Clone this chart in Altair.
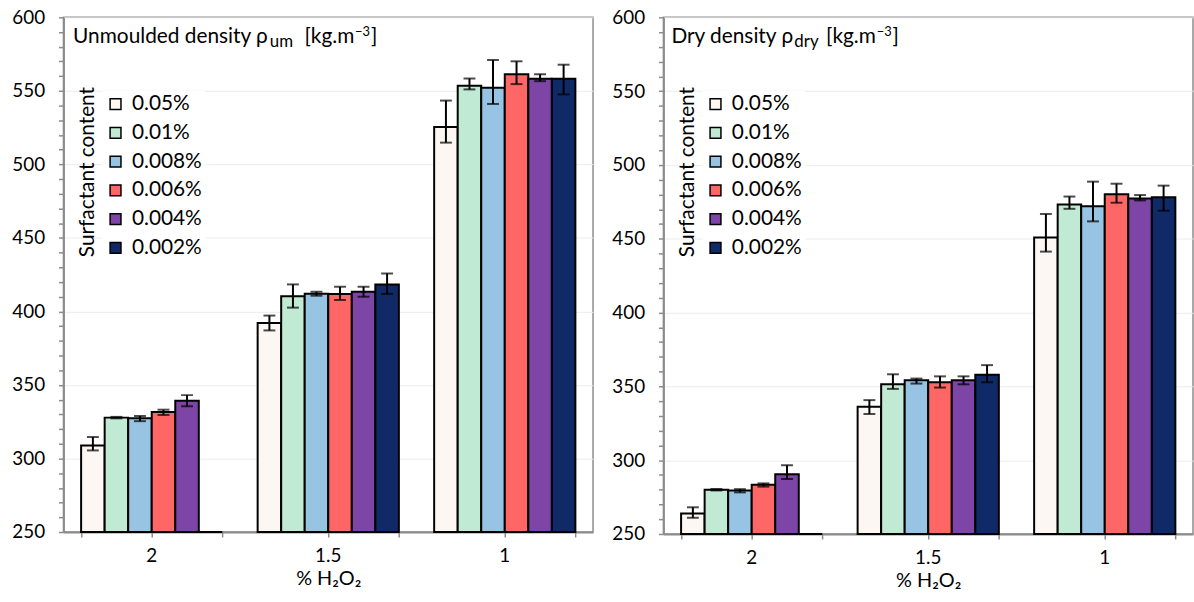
import altair as alt
import pandas as pd

H2O2 = ["2", "1.5", "1"]
SURF = ["0.05%", "0.01%", "0.008%", "0.006%", "0.004%", "0.002%"]
COLORS = ["#FCF7F3", "#C1EAD5", "#98C4E4", "#FF6666", "#7D45A6", "#0F2A66"]

# Unmoulded density: rows = % H2O2 (2, 1.5, 1), columns = surfactant content
UM_MEAN = [
    [308.9, 327.8, 327.4, 331.6, 339.3, 0],
    [392.1, 410.3, 412.1, 411.9, 413.4, 418.4],
    [525.4, 553.5, 552.1, 561.3, 558.2, 558.2],
]
UM_LO = [
    [305.5, 327.3, 325.4, 329.6, 335.5, None],
    [387.1, 402.6, 410.7, 407.8, 410.0, 411.9],
    [514.8, 551.0, 541.1, 554.6, 556.6, 547.6],
]
UM_HI = [
    [314.6, 328.3, 328.9, 333.2, 343.1, None],
    [397.2, 418.4, 413.4, 416.8, 416.8, 425.8],
    [543.4, 558.4, 571.0, 570.1, 561.3, 567.8],
]
# Dry density
DRY_MEAN = [
    [263.9, 280.0, 279.5, 283.4, 290.5, 0],
    [336.2, 351.4, 354.1, 352.8, 354.1, 357.9],
    [450.9, 473.2, 472.1, 480.2, 477.3, 478.2],
]
DRY_LO = [
    [261.0, 279.5, 278.2, 282.1, 287.2, None],
    [331.3, 348.3, 351.9, 349.2, 351.4, 352.8],
    [441.3, 470.3, 461.8, 474.4, 476.0, 469.0],
]
DRY_HI = [
    [268.1, 280.5, 280.4, 284.3, 296.6, None],
    [340.7, 358.2, 355.3, 356.8, 356.8, 364.4],
    [466.8, 478.6, 488.7, 487.3, 479.6, 486.0],
]

# title pieces: main, subscript, unit, superscript, closing bracket
UM_TITLE = ["Unmoulded density ρ", "um", "[kg.m", "−3", "]"]
DRY_TITLE = ["Dry density ρ", "dry", "[kg.m", "−3", "]"]
LEGEND_TITLE = "Surfactant content"
X_TITLE = "% H₂O₂"
Y_TICKS = list(range(250, 601, 10))

FONT = "Lato"
GRAY = "#8c8c8c"


def make_df(mean, lo, hi):
    rows = []
    for i, h in enumerate(H2O2):
        for j, s in enumerate(SURF):
            rows.append({"h2o2": h, "surf": s, "mean": mean[i][j],
                         "lo": lo[i][j], "hi": hi[i][j]})
    return pd.DataFrame(rows)


def text_layer(txt, x, y, size, align="left", angle=0, baseline="alphabetic"):
    return alt.Chart(pd.DataFrame({"t": [txt]})).mark_text(
        align=align, baseline=baseline, fontSize=size, font=FONT, color="black", angle=angle
    ).encode(x=alt.value(x), y=alt.value(y), text="t:N")


def panel(mean, lo, hi, parts, height, xs, main_align):
    df = make_df(mean, lo, hi)
    xscale = alt.Scale(paddingInner=0.2, paddingOuter=0.1)
    yscale = alt.Scale(domain=[250, 600], nice=False, zero=False, clamp=True)
    yaxis = alt.Axis(values=Y_TICKS, title=None, tickSize=5, labelPadding=14,
                     labelExpr="datum.value % 50 === 0 ? datum.label : ''",
                     gridOpacity={"condition": {"test": "datum.value % 50 === 0", "value": 1}, "value": 0})
    xo = alt.XOffset("surf:N", sort=SURF, scale=alt.Scale(paddingInner=0, paddingOuter=0))

    bars = alt.Chart(df).mark_bar(stroke="black", strokeWidth=2).encode(
        x=alt.X("h2o2:N", sort=H2O2, scale=xscale, title=X_TITLE,
                axis=alt.Axis(orient="bottom", labelAngle=0, tickSize=5, labelPadding=10,
                              titlePadding=3, grid=False)),
        xOffset=xo,
        y=alt.Y("mean:Q", scale=yscale, axis=yaxis),
        color=alt.Color("surf:N", sort=SURF, scale=alt.Scale(domain=SURF, range=COLORS),
                        legend=alt.Legend(title=None, orient="none", legendX=39, legendY=74,
                                          labelFontSize=21, labelFont=FONT, labelColor="black",
                                          symbolType="square", symbolSize=120,
                                          symbolStrokeColor="black", symbolStrokeWidth=1.5,
                                          rowPadding=7, labelOffset=6, fillColor="white",
                                          padding=3)),
    )
    rules = alt.Chart(df).mark_rule(color="black", strokeWidth=2).encode(
        x=alt.X("h2o2:N", sort=H2O2, scale=xscale, title=None,
                axis=alt.Axis(orient="bottom", tickBand="extent", labels=False, domain=False,
                              tickSize=5, grid=False, title=None)),
        xOffset=xo,
        y=alt.Y("lo:Q", scale=yscale, axis=yaxis),
        y2="hi:Q",
    )
    cap_hi = alt.Chart(df).mark_tick(color="black", thickness=2, size=12, orient="horizontal").encode(
        x=alt.X("h2o2:N", sort=H2O2, scale=xscale, axis=None),
        xOffset=xo,
        y=alt.Y("hi:Q", scale=yscale, axis=yaxis),
    )
    cap_lo = alt.Chart(df).mark_tick(color="black", thickness=2, size=12, orient="horizontal").encode(
        x=alt.X("h2o2:N", sort=H2O2, scale=xscale, axis=None),
        xOffset=xo,
        y=alt.Y("lo:Q", scale=yscale, axis=yaxis),
    )
    texts = [
        text_layer(parts[0], xs[0], 26, 21, align=main_align),
        text_layer(parts[1], xs[1], 30, 17),
        text_layer(parts[2], xs[2], 26, 21),
        text_layer(parts[3], xs[3], 19, 13),
        text_layer(parts[4], xs[4], 26, 21),
        text_layer(LEGEND_TITLE, 25, 156, 21, align="center", angle=270, baseline="middle"),
    ]

    return alt.layer(bars, rules, cap_hi, cap_lo, *texts).resolve_axis(
        x="independent").properties(width=534, height=height)


left = panel(UM_MEAN, UM_LO, UM_HI, UM_TITLE, 519, [206, 208, 243, 294, 310], "right")
right = panel(DRY_MEAN, DRY_LO, DRY_HI, DRY_TITLE, 521, [8, 132, 164, 215, 231], "left")

chart = alt.hconcat(left, right, spacing=17).resolve_scale(color="independent").resolve_legend(
    color="independent"
).properties(
    padding={"left": 11, "top": 5, "right": 0, "bottom": 0}
).configure_view(stroke=GRAY, strokeWidth=1.5).configure_axis(
    domainColor=GRAY, tickColor=GRAY, domainWidth=2, tickWidth=1.5,
    labelFont=FONT, labelFontSize=19, labelColor="black",
    titleFont=FONT, titleFontSize=20, titleFontWeight="normal", titleColor="black",
    gridColor="#ececec", gridWidth=1,
).configure_legend(labelFont=FONT)

chart.save("out.html", embed_options={"renderer": "svg", "actions": False})
